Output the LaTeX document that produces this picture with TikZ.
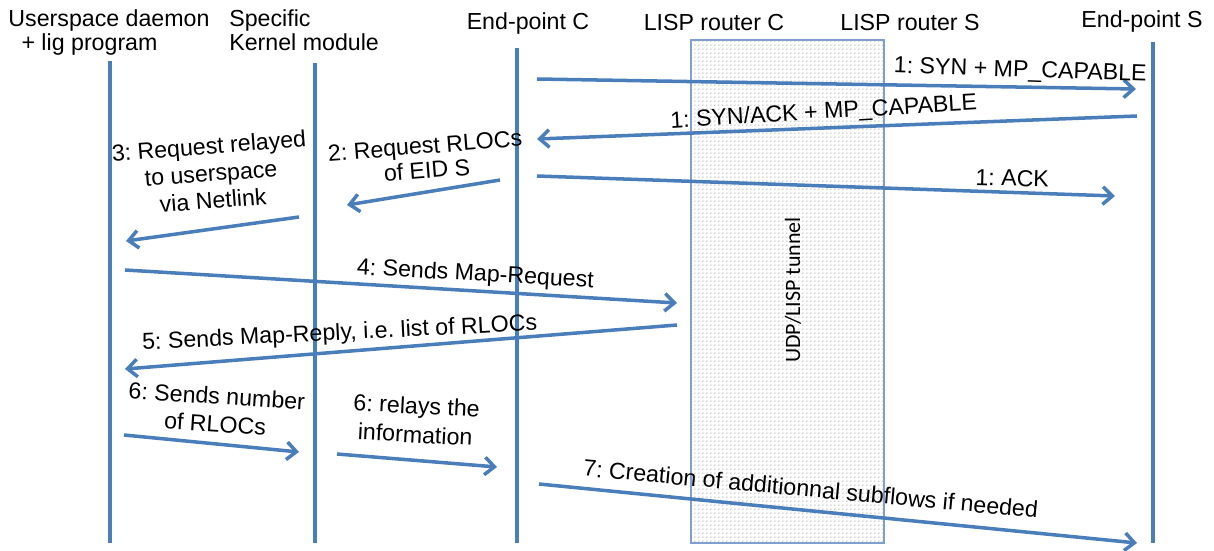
\documentclass[tikz,border=0pt]{standalone}
\usepackage{fontspec}
\setmainfont{Liberation Sans}
\newfontfamily\tunnelfont{Carlito}
\usetikzlibrary{arrows.meta,patterns.meta}

\definecolor{seqblue}{HTML}{4A7EBB}
\definecolor{boxblue}{HTML}{7F9FCF}

% fine grid of dots for the tunnel area
\tikzdeclarepattern{
  name=fine dots,
  type=uncolored,
  bottom left={(0pt,0pt)},
  top right={(2.5pt,2.5pt)},
  tile size={(2.5pt,2.5pt)},
  code={\fill (1.25pt,1.25pt) circle (0.32pt);}
}

\frenchspacing

\begin{document}
\begin{tikzpicture}[x=0.02cm,y=-0.02cm,
  lifeline/.style={draw=seqblue, line width=2pt},
  msg/.style={draw=seqblue, line width=2pt, -{Straight Barb[length=5.5pt,width=10pt]}},
  head/.style={font=\fontsize{13.2}{13.6}\selectfont, inner sep=0pt},
  lbl/.style={font=\fontsize{13.2}{13.6}\selectfont, inner sep=0pt, align=center},
]
\useasboundingbox (0,0) rectangle (1214,551);

% tunnel between the two LISP routers
\coordinate (tunTL) at (691,40);
\coordinate (tunBR) at (884,543);
\path[pattern=fine dots, pattern color=black!80] (tunTL) rectangle (tunBR);
\draw[boxblue, line width=0.6pt] (tunTL) rectangle (tunBR);
\node[font=\tunnelfont\fontsize{12.5}{13}\selectfont, rotate=90, inner sep=0pt] (tunlbl) at (793,290) {UDP/LISP tunnel};

% participants
\node[head, anchor=base] (hUser1) at (109,26.7) {Userspace daemon};
\node[head, anchor=base] (hUser2) at (89.5,50.5) {+ lig program};
\node[head, anchor=base west] (hKern1) at (229,26.7) {Specific};
\node[head, anchor=base west] (hKern2) at (229,50.5) {Kernel module};
\node[head, anchor=base] (hEpC) at (528,29.3) {End-point C};
\node[head, anchor=base] (hRtC) at (714,30.7) {LISP router C};
\node[head, anchor=base] (hRtS) at (910,31) {LISP router S};
\node[head, anchor=base] (hEpS) at (1142,28) {End-point S};

% lifelines
\coordinate (uT) at (110,61);  \coordinate (uB) at (110,543);
\coordinate (kT) at (315,63);  \coordinate (kB) at (315,543);
\coordinate (cT) at (517,48);  \coordinate (cB) at (517,543);
\coordinate (sT) at (1153,42); \coordinate (sB) at (1153,543);
\draw[lifeline] (uT) -- (uB);
\draw[lifeline] (kT) -- (kB);
\draw[lifeline] (cT) -- (cB);
\draw[lifeline] (sT) -- (sB);

% message end points
\coordinate (m1s) at (537,79);   \coordinate (m1e) at (1136,89);
\coordinate (m1bs) at (1137,116); \coordinate (m1be) at (537,139);
\coordinate (m1cs) at (537,176); \coordinate (m1ce) at (1115,196);
\coordinate (m2s) at (500,180);  \coordinate (m2e) at (347,205);
\coordinate (m3s) at (299,217);  \coordinate (m3e) at (126,241);
\coordinate (m4s) at (125,270);  \coordinate (m4e) at (677,303);
\coordinate (m5s) at (677,325);  \coordinate (m5e) at (125,369);
\coordinate (m6as) at (124,435); \coordinate (m6ae) at (299,452);
\coordinate (m6bs) at (337,454); \coordinate (m6be) at (497,467);
\coordinate (m7s) at (539,484);  \coordinate (m7e) at (1137,543);

% messages
\draw[msg] (m1s) -- (m1e);
\draw[msg] (m1bs) -- (m1be);
\draw[msg] (m1cs) -- (m1ce);
\draw[msg] (m2s) -- (m2e);
\draw[msg] (m3s) -- (m3e);
\draw[msg] (m4s) -- (m4e);
\draw[msg] (m5s) -- (m5e);
\draw[msg] (m6as) -- (m6ae);
\draw[msg] (m6bs) -- (m6be);
\draw[msg] (m7s) -- (m7e);

% message labels
\node[lbl, anchor=base, rotate=-2] (l1) at (1020,77) {1: SYN + MP\_CAPABLE};
\node[lbl, anchor=base, rotate=3.4] (l1b) at (824,119) {1: SYN/ACK + MP\_CAPABLE};
\node[lbl, anchor=base, rotate=-1.5] (l1c) at (1012,186) {1: ACK};
\node[lbl, font=\fontsize{13.2}{14}\selectfont, rotate=4.5] (l2) at (426,158) {2: Request RLOCs\\of EID S};
\node[lbl, font=\fontsize{13.2}{15.5}\selectfont, rotate=4.4] (l3) at (211,173) {3: Request relayed\\to userspace\\via Netlink};
\node[lbl, anchor=base, rotate=-3.2] (l4) at (475,281) {4: Sends Map-Request};
\node[lbl, anchor=base, rotate=2.8] (l5) at (340,340) {5: Sends Map-Reply, i.e. list of RLOCs};
\node[lbl, font=\fontsize{13.2}{15.9}\selectfont, rotate=-3.7] (l6a) at (216,410) {6: Sends number\\of RLOCs};
\node[lbl, font=\fontsize{13.2}{16.4}\selectfont, rotate=-3] (l6b) at (416,420) {6: relays the\\information};
\node[lbl, anchor=base, rotate=-5.3] (l7) at (810,497) {7: Creation of additionnal subflows if needed};
\end{tikzpicture}
\end{document}
